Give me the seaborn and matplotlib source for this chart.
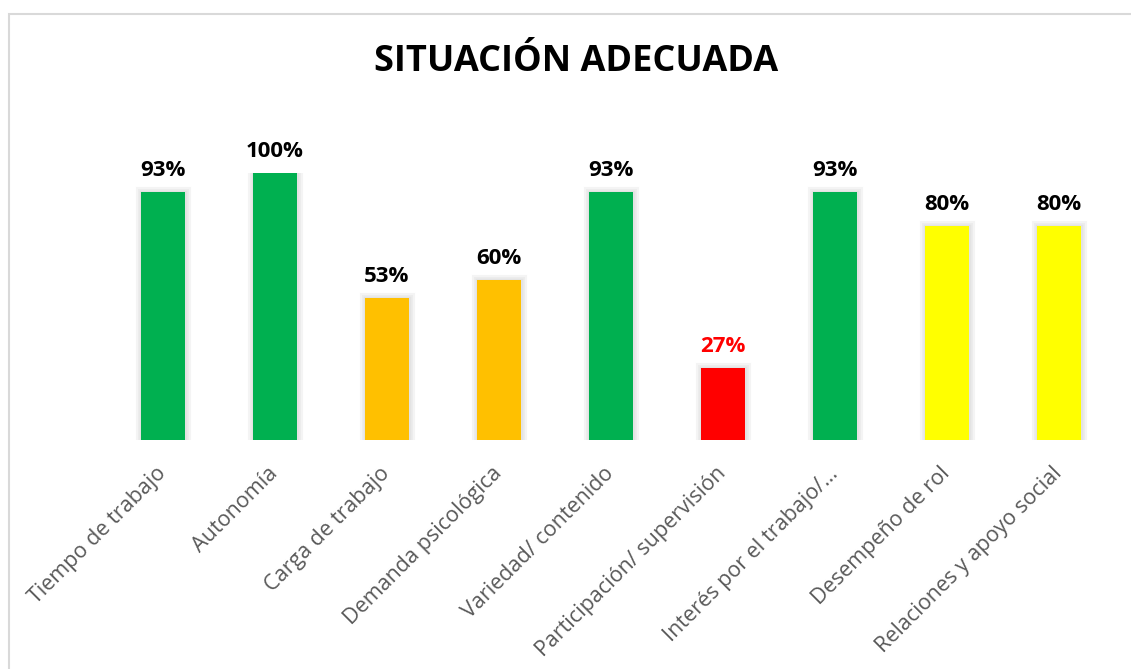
import pandas as pd
import matplotlib.pyplot as plt
import matplotlib.patheffects as pe
from matplotlib.patches import Rectangle
import seaborn as sns

# Datos
categorias = ["Tiempo de trabajo", "Autonomía", "Carga de trabajo", "Demanda psicológica",
              "Variedad/ contenido", "Participación/ supervisión", "Interés por el trabajo/…",
              "Desempeño de rol", "Relaciones y apoyo social"]
valores = [0.93, 1.00, 0.53, 0.60, 0.93, 0.27, 0.93, 0.80, 0.80]
colores = ["#00B050", "#00B050", "#FFC000", "#FFC000", "#00B050",
           "#FF0000", "#00B050", "#FFFF00", "#FFFF00"]
etiquetas = ["93%", "100%", "53%", "60%", "93%", "27%", "93%", "80%", "80%"]
color_etiqueta = ["black"] * 5 + ["#FF0000"] + ["black"] * 3

df = pd.DataFrame({"categoria": categorias, "valor": valores})

sns.set_style("white")
plt.rcParams["font.family"] = ["Open Sans", "DejaVu Sans"]

fig = plt.figure(figsize=(11.31, 6.69), dpi=100)
ax = fig.add_axes([0.0946, 0.3423, 0.8912, 0.3991])

sns.barplot(data=df, x="categoria", y="valor", hue="categoria",
            palette=dict(zip(categorias, colores)), width=0.4,
            legend=False, ax=ax, saturation=1)

# sombra suave alrededor de las barras
for p in ax.patches:
    p.set_path_effects([pe.withStroke(linewidth=8, foreground="#f4f4f4"),
                        pe.withStroke(linewidth=5, foreground="#ececec"),
                        pe.withStroke(linewidth=2.5, foreground="#e3e3e3"),
                        pe.Normal()])
    p.set_linewidth(0)

for i, (v, t, c) in enumerate(zip(valores, etiquetas, color_etiqueta)):
    ax.annotate(t, (i, v), xytext=(0, 8), textcoords="offset points",
                ha="center", va="bottom", fontsize=16, fontweight="bold",
                color=c, annotation_clip=False)

ax.set_xlim(-0.5, 8.5)
ax.set_ylim(0, 1.0)
ax.set_xlabel("")
ax.set_ylabel("")
ax.set_yticks([])
ax.tick_params(axis="x", length=0, pad=22)
for lbl in ax.get_xticklabels():
    lbl.set_rotation(45)
    lbl.set_ha("right")
    lbl.set_va("center")
    lbl.set_rotation_mode("anchor")
    lbl.set_fontsize(15.5)
    lbl.set_color("#595959")
sns.despine(ax=ax, left=True, bottom=True)

fig.text(0.509, 0.907, "SITUACIÓN ADECUADA", ha="center", va="center",
         fontsize=26, fontweight="bold", color="black")

# Borde del gráfico
fig.patches.append(Rectangle((9 / 1131, -0.05), 1.1, 1 - 14 / 669 + 0.05,
                             transform=fig.transFigure, fill=False,
                             edgecolor="#d9d9d9", linewidth=1.5))

fig.savefig("out.png", dpi=100)
